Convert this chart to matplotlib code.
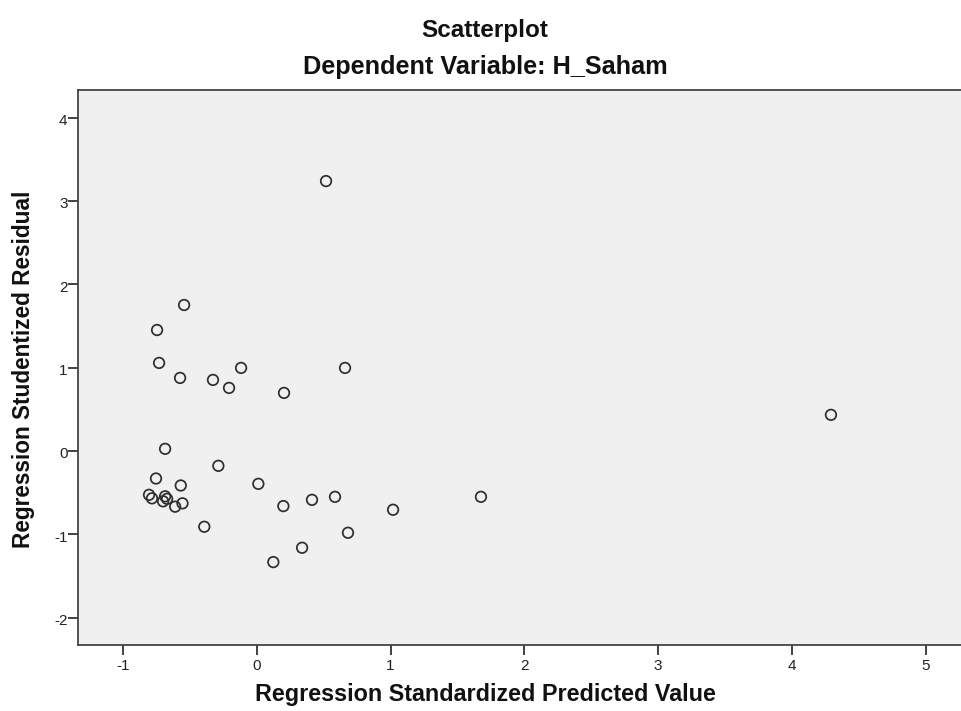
import matplotlib
matplotlib.use("Agg")
import matplotlib.pyplot as plt
import matplotlib.transforms as mtransforms

plt.rcParams['font.family'] = ['Liberation Sans', 'DejaVu Sans']

pred = [0.518, -0.543, -0.745, -0.730, -0.573, -0.117, -0.327, -0.207, 0.204, 0.660,
        4.292, -0.685, -0.753, -0.568, -0.287, 0.012,
        -0.805, -0.783, -0.685, -0.700, -0.670, -0.610, -0.555,
        -0.392, 0.199, 0.413, 0.585, 1.019, 1.676, 0.682, 0.339, 0.124]
resid = [3.237, 1.750, 1.450, 1.055, 0.875, 0.995, 0.851, 0.755, 0.695, 0.995,
         0.432, 0.024, -0.332, -0.416, -0.180, -0.396,
         -0.528, -0.570, -0.546, -0.606, -0.576, -0.670, -0.630,
         -0.911, -0.663, -0.588, -0.552, -0.707, -0.552, -0.983, -1.163, -1.335]
xticks = [-1, 0, 1, 2, 3, 4, 5]
yticks = [-2, -1, 0, 1, 2, 3, 4]

W, H = 961, 711
fig = plt.figure(figsize=(W / 100, H / 100), dpi=100)
ax = fig.add_axes([78 / W, 1 - 645 / H, (961 - 78) / W, (645 - 90) / H])
ax.set_facecolor('#f0f0f0')
ax.scatter(pred, resid, s=7.6 ** 2, facecolors='none', edgecolors='#2e2e2e', linewidths=1.25, zorder=3)

ax.set_xlim(-1.336, 5.264)
ax.set_ylim(-2.33, 4.33)
ax.set_xticks(xticks)
ax.set_yticks(yticks)
ax.set_xticklabels([str(t) for t in xticks])
ax.set_yticklabels([str(t) for t in yticks])
ax.tick_params(direction='out', length=7, width=1.3, color='#333333', labelsize=11, labelcolor='#222222')
ax.tick_params(axis='x', pad=3)
ax.tick_params(axis='y', pad=0.5)
offset = mtransforms.ScaledTranslation(0, -2 / 100, fig.dpi_scale_trans)
for lab in ax.get_yticklabels():
    lab.set_transform(lab.get_transform() + offset)
for s in ['left', 'bottom', 'top']:
    ax.spines[s].set_color('#444444')
    ax.spines[s].set_linewidth(1.3)
ax.spines['right'].set_visible(False)

fig.text(485 / W, 1 - 31 / H, 'Scatterplot', ha='center', va='center', fontsize=17.5, fontweight='bold', color='#111111')
fig.text(485 / W, 1 - 67 / H, 'Dependent Variable: H_Saham', ha='center', va='center', fontsize=18.2, fontweight='bold', color='#111111')
fig.text(485 / W, 1 - 695 / H, 'Regression Standardized Predicted Value', ha='center', va='center', fontsize=16.8, fontweight='bold', color='#111111')
fig.text(24 / W, 1 - 369 / H, 'Regression Studentized Residual', ha='center', va='center', rotation=90, fontsize=16.3, fontweight='bold', color='#111111')

fig.savefig('out.png', dpi=100, facecolor='white')
